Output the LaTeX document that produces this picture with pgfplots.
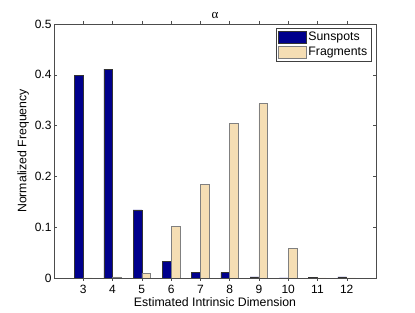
\documentclass[border=0pt]{standalone}
\usepackage{fontspec}
\setmainfont{Liberation Sans}
\newfontfamily\greekserif{Liberation Serif}
\usepackage{pgfplots}
\pgfplotsset{compat=1.18}
\definecolor{sunblue}{RGB}{0,0,140}
\definecolor{wheat}{RGB}{245,222,180}
\begin{document}
\begin{tikzpicture}
\useasboundingbox (0,0) rectangle (415pt,313pt);
\begin{axis}[
  at={(54pt,35pt)}, anchor=south west,
  scale only axis, width=322pt, height=254pt,
  xmin=2, xmax=13, ymin=0, ymax=0.5,
  xtick={3,4,5,6,7,8,9,10,11,12},
  ytick={0,0.1,0.2,0.3,0.4,0.5},
  tick align=inside, major tick length=3pt,
  tick style={black!70, line width=0.4pt},
  axis line style={black!70, line width=0.7pt},
  /pgf/number format/assume math mode=true,
  ticklabel style={font=\fontsize{12}{13}\selectfont},
  yticklabel style={/pgf/number format/fixed, xshift=1pt},
  xticklabel style={yshift=-0.5pt},
  xlabel={Estimated Intrinsic Dimension},
  ylabel={Normalized Frequency},
  label style={font=\fontsize{12.3}{14}\selectfont},
  xlabel style={yshift=3pt},
  ylabel style={yshift=-1pt},
  title={\greekserif α},
  title style={font=\fontsize{13}{14}\selectfont, yshift=-4pt},
  ybar, bar width=0.3,
  legend style={at={(rel axis cs:0.986,0.984)}, anchor=north east,
    draw=black!75, line width=0.6pt, font=\fontsize{12.3}{14}\selectfont,
    inner xsep=2pt, inner ysep=2pt, row sep=1pt, cells={anchor=west}},
  legend image code/.code={\draw[#1] (0pt,-6pt) rectangle (28pt,6pt);},
]
\addplot[bar shift=-0.15, fill=sunblue, draw=black!80, line width=0.5pt] coordinates {
 (3,0.399) (4,0.411) (5,0.134) (6,0.032) (7,0.0105) (8,0.0105) (9,0.002) (10,0) (11,0.001) (12,0.002)};
\addplot[bar shift=0.15, fill=wheat, draw=black!50, line width=0.6pt] coordinates {
 (3,0) (4,0.002) (5,0.009) (6,0.101) (7,0.184) (8,0.304) (9,0.343) (10,0.058) (11,0) (12,0)};
\legend{Sunspots,Fragments}
\end{axis}
\end{tikzpicture}
\end{document}
